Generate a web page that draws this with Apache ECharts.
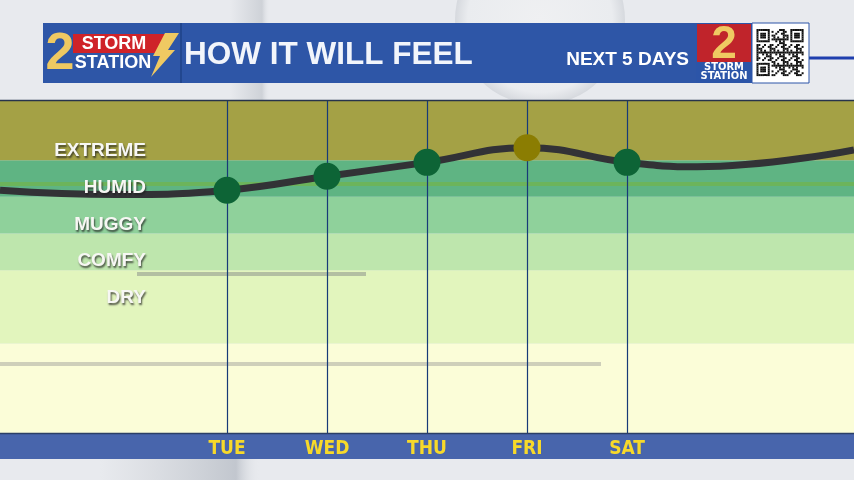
<!DOCTYPE html>
<html>
<head>
<meta charset="utf-8">
<script src="https://cdn.jsdelivr.net/npm/echarts@6.0.0/dist/echarts.min.js"></script>
<style>
html,body{margin:0;padding:0;background:#e8eaee;}
#chart{width:854px;height:480px;}
</style>
</head>
<body>
<div id="chart"></div>
<script>
// ---- data ----
const days = ['TUE', 'WED', 'THU', 'FRI', 'SAT'];
const dayIndex = [0, 1, 2, 3, 4];
const dayValues = [65.9, 67.8, 69.7, 71.7, 69.7];
const leadX = [-2.27, -1.1];
const leadY = [65.9, 65.3];
const tailX = [4.7, 6.27];
const tailY = [69.1, 71.4];
const bandNames = ['DRY', 'COMFY', 'MUGGY', 'HUMID', 'EXTREME'];
const bandLows = [45, 55, 60, 65, 70];
const bandLabelValues = [51.25, 56.25, 61.25, 66.25, 71.25];
const stripeValue = 66.75;
const yMin = 32.8, yMax = 78.2;
const xMin = -2.27, xMax = 6.27;

const bandColors = ['#fbfdd8', '#e2f5bd', '#bee6ad', '#8fd19b', '#5fb483', '#a4a145'];

const bounds = [yMin].concat(bandLows).concat([yMax]);
const bandAreas = bandColors.map((c, i) => [
  { yAxis: bounds[i], itemStyle: { color: c } },
  { yAxis: bounds[i + 1] }
]);

const curve = [];
leadX.forEach((x, i) => curve.push([x, leadY[i]]));
dayIndex.forEach(i => curve.push([i, dayValues[i]]));
tailX.forEach((x, i) => curve.push([x, tailY[i]]));

const dots = dayIndex.map(i => ({
  value: [i, dayValues[i]],
  itemStyle: { color: dayValues[i] >= bandLows[4] ? '#8b7d02' : '#0d6436', opacity: 1 }
}));

const GOLD = '#efc962';
const FONT = '"Liberation Sans", Arial, sans-serif';
const NARROW = '"DejaVu Sans Condensed", "Liberation Sans Narrow", sans-serif';

// decorative QR pattern
const qr = [];
const N = 25, cell = 1.88, qx = 756.5, qy = 29;
function finder(r0, c0) {
  for (let r = 0; r < 7; r++) for (let c = 0; c < 7; c++) {
    const edge = r === 0 || r === 6 || c === 0 || c === 6;
    const core = r >= 2 && r <= 4 && c >= 2 && c <= 4;
    if (edge || core) qr.push([r0 + r, c0 + c]);
  }
}
finder(0, 0); finder(0, N - 7); finder(N - 7, 0);
for (let r = 0; r < N; r++) for (let c = 0; c < N; c++) {
  const inF = (r < 8 && c < 8) || (r < 8 && c >= N - 8) || (r >= N - 8 && c < 8);
  if (inF) continue;
  if (((r * 7 + c * 13 + r * c * 3) % 7) < 3) qr.push([r, c]);
}
const qrRects = qr.map(([r, c]) => ({
  type: 'rect', z: 120, silent: true,
  shape: { x: qx + c * cell, y: qy + r * cell, width: cell + 0.1, height: cell + 0.1 },
  style: { fill: '#111' }
}));

const chart = echarts.init(document.getElementById('chart'));
chart.setOption({
  backgroundColor: '#e8eaee',
  animation: false,
  grid: { left: 0, right: 0, top: 100, bottom: 47, outerBoundsMode: 'none' },
  xAxis: {
    type: 'value', min: xMin, max: xMax, z: 6,
    axisLine: { show: false }, axisTick: { show: false }, splitLine: { show: false },
    axisLabel: {
      customValues: dayIndex,
      formatter: v => days[Math.round(v)] || '',
      color: '#f7d92a', fontFamily: NARROW, fontWeight: 'bold', fontSize: 19,
      margin: 16, verticalAlign: 'middle'
    }
  },
  yAxis: {
    type: 'value', min: yMin, max: yMax, z: 6,
    axisLine: { show: false }, axisTick: { show: false }, splitLine: { show: false },
    axisLabel: {
      customValues: bandLabelValues,
      formatter: v => {
        let best = 0;
        bandLabelValues.forEach((b, i) => { if (Math.abs(b - v) < Math.abs(bandLabelValues[best] - v)) best = i; });
        return bandNames[best];
      },
      margin: -146, align: 'right', verticalAlign: 'middle',
      color: '#f7f7f4', fontFamily: FONT, fontWeight: 'bold', fontSize: 19,
      textShadowColor: 'rgba(30,30,30,0.75)', textShadowBlur: 2,
      textShadowOffsetX: 1, textShadowOffsetY: 2
    }
  },
  graphic: [
    // background decorations
    { type: 'circle', z: -20, silent: true, shape: { cx: 540, cy: 20, r: 85 },
      style: { fill: { type: 'radial', x: 0.5, y: 0.5, r: 0.5, colorStops: [
        { offset: 0, color: '#eff0f2' }, { offset: 0.85, color: '#eaecef' }, { offset: 1, color: '#d6d9de' } ] } } },
    { type: 'rect', z: -20, silent: true, shape: { x: 230, y: 0, width: 40, height: 100 },
      style: { fill: { type: 'linear', x: 0, y: 0, x2: 1, y2: 0, colorStops: [
        { offset: 0, color: 'rgba(200,204,210,0)' }, { offset: 0.8, color: 'rgba(200,204,210,0.8)' }, { offset: 1, color: 'rgba(232,234,238,0)' } ] } } },
    { type: 'rect', z: -20, silent: true, shape: { x: 100, y: 459, width: 160, height: 21 },
      style: { fill: { type: 'linear', x: 0, y: 0, x2: 1, y2: 0, colorStops: [
        { offset: 0, color: 'rgba(200,204,210,0)' }, { offset: 0.85, color: 'rgba(190,195,203,0.9)' }, { offset: 1, color: 'rgba(232,234,238,0)' } ] } } },
    // chart top border
    { type: 'line', z: 50, silent: true, shape: { x1: 0, y1: 100.5, x2: 854, y2: 100.5 },
      style: { stroke: '#26344c', lineWidth: 1.5 } },
    // bottom day bar
    { type: 'rect', z: -5, silent: true, shape: { x: 0, y: 433, width: 854, height: 26 },
      style: { fill: '#4865ac' } },
    { type: 'line', z: 50, silent: true, shape: { x1: 0, y1: 433.5, x2: 854, y2: 433.5 },
      style: { stroke: '#2b3f66', lineWidth: 1.5 } },
    // header bar
    { type: 'rect', z: 100, silent: true, shape: { x: 43, y: 23, width: 653, height: 60 },
      style: { fill: '#2e56a7' } },
    { type: 'line', z: 101, silent: true, shape: { x1: 181, y1: 23, x2: 181, y2: 83 },
      style: { stroke: '#22478f', lineWidth: 2 } },
    // left logo
    { type: 'polygon', z: 101, silent: true, shape: { points: [[73, 34], [168, 34], [160, 53], [73, 53]] },
      style: { fill: '#cf2329' } },
    { type: 'text', z: 102, silent: true, style: { text: '2', x: 60, y: 55, align: 'center', verticalAlign: 'middle',
      font: '900 52px ' + FONT, fill: GOLD } },
    { type: 'text', z: 102, silent: true, style: { text: 'STORM', x: 114, y: 44.5, align: 'center', verticalAlign: 'middle',
      font: 'bold 18px ' + FONT, fill: '#ffffff' } },
    { type: 'text', z: 102, silent: true, style: { text: 'STATION', x: 113, y: 63, align: 'center', verticalAlign: 'middle',
      font: 'bold 18px ' + FONT, fill: '#ffffff' } },
    { type: 'polygon', z: 102, silent: true, shape: { points: [[165, 33], [179, 33], [168, 50], [175, 50], [151, 77], [160, 56], [153, 56]] },
      style: { fill: GOLD } },
    // title
    { type: 'text', z: 102, silent: true, style: { text: 'HOW IT WILL FEEL', x: 184, y: 55, align: 'left', verticalAlign: 'middle',
      font: 'bold 31.5px ' + FONT, fill: '#f2f5fb' } },
    { type: 'text', z: 102, silent: true, style: { text: 'NEXT 5 DAYS', x: 689, y: 60, align: 'right', verticalAlign: 'middle',
      font: 'bold 19px ' + FONT, fill: '#ffffff' } },
    // right logo
    { type: 'rect', z: 101, silent: true, shape: { x: 696, y: 23, width: 56, height: 60 }, style: { fill: '#2c55a8' } },
    { type: 'rect', z: 102, silent: true, shape: { x: 697, y: 24, width: 54, height: 38 }, style: { fill: '#c0242b' } },
    { type: 'text', z: 103, silent: true, style: { text: '2', x: 724, y: 45, align: 'center', verticalAlign: 'middle',
      font: '900 46px ' + FONT, fill: GOLD } },
    { type: 'text', z: 103, silent: true, style: { text: 'STORM', x: 724, y: 67, align: 'center', verticalAlign: 'middle',
      font: 'bold 11px ' + NARROW, fill: '#ffffff' } },
    { type: 'text', z: 103, silent: true, style: { text: 'STATION', x: 724, y: 76.5, align: 'center', verticalAlign: 'middle',
      font: 'bold 11px ' + NARROW, fill: '#ffffff' } },
    // QR box
    { type: 'rect', z: 110, silent: true, shape: { x: 752, y: 23, width: 57, height: 60 },
      style: { fill: '#ffffff', stroke: '#2c55a8', lineWidth: 1 } },
    { type: 'line', z: 100, silent: true, shape: { x1: 809, y1: 58, x2: 854, y2: 58 },
      style: { stroke: '#1f3fae', lineWidth: 3 } }
  ].concat(qrRects),
  series: [
    {
      type: 'line', name: 'bands', data: [], z: 1, silent: true,
      markArea: { silent: true, z: 1, data: bandAreas },
      markLine: {
        silent: true, z: 1.5, symbol: 'none', label: { show: false },
        data: [
          { yAxis: stripeValue, lineStyle: { color: '#6cb45b', width: 4, type: 'solid' } },
          [ { coord: [-0.9, 54.5], lineStyle: { color: 'rgba(140,145,140,0.55)', width: 4, type: 'solid' } }, { coord: [1.39, 54.5] } ],
          [ { coord: [xMin, 42.2], lineStyle: { color: 'rgba(150,150,150,0.45)', width: 4, type: 'solid' } }, { coord: [3.74, 42.2] } ]
        ].concat(dayIndex.map(i => ({ xAxis: i, lineStyle: { color: '#173a78', width: 1.2, type: 'solid' } })))
      }
    },
    {
      type: 'line', name: 'feel', data: curve, smooth: 0.45, showSymbol: false, z: 3, silent: true,
      lineStyle: { color: '#323236', width: 7 }
    },
    {
      type: 'scatter', name: 'days', data: dots, symbolSize: 27, z: 4, silent: true,
      itemStyle: { opacity: 1 }
    }
  ]
});
</script>
</body>
</html>
